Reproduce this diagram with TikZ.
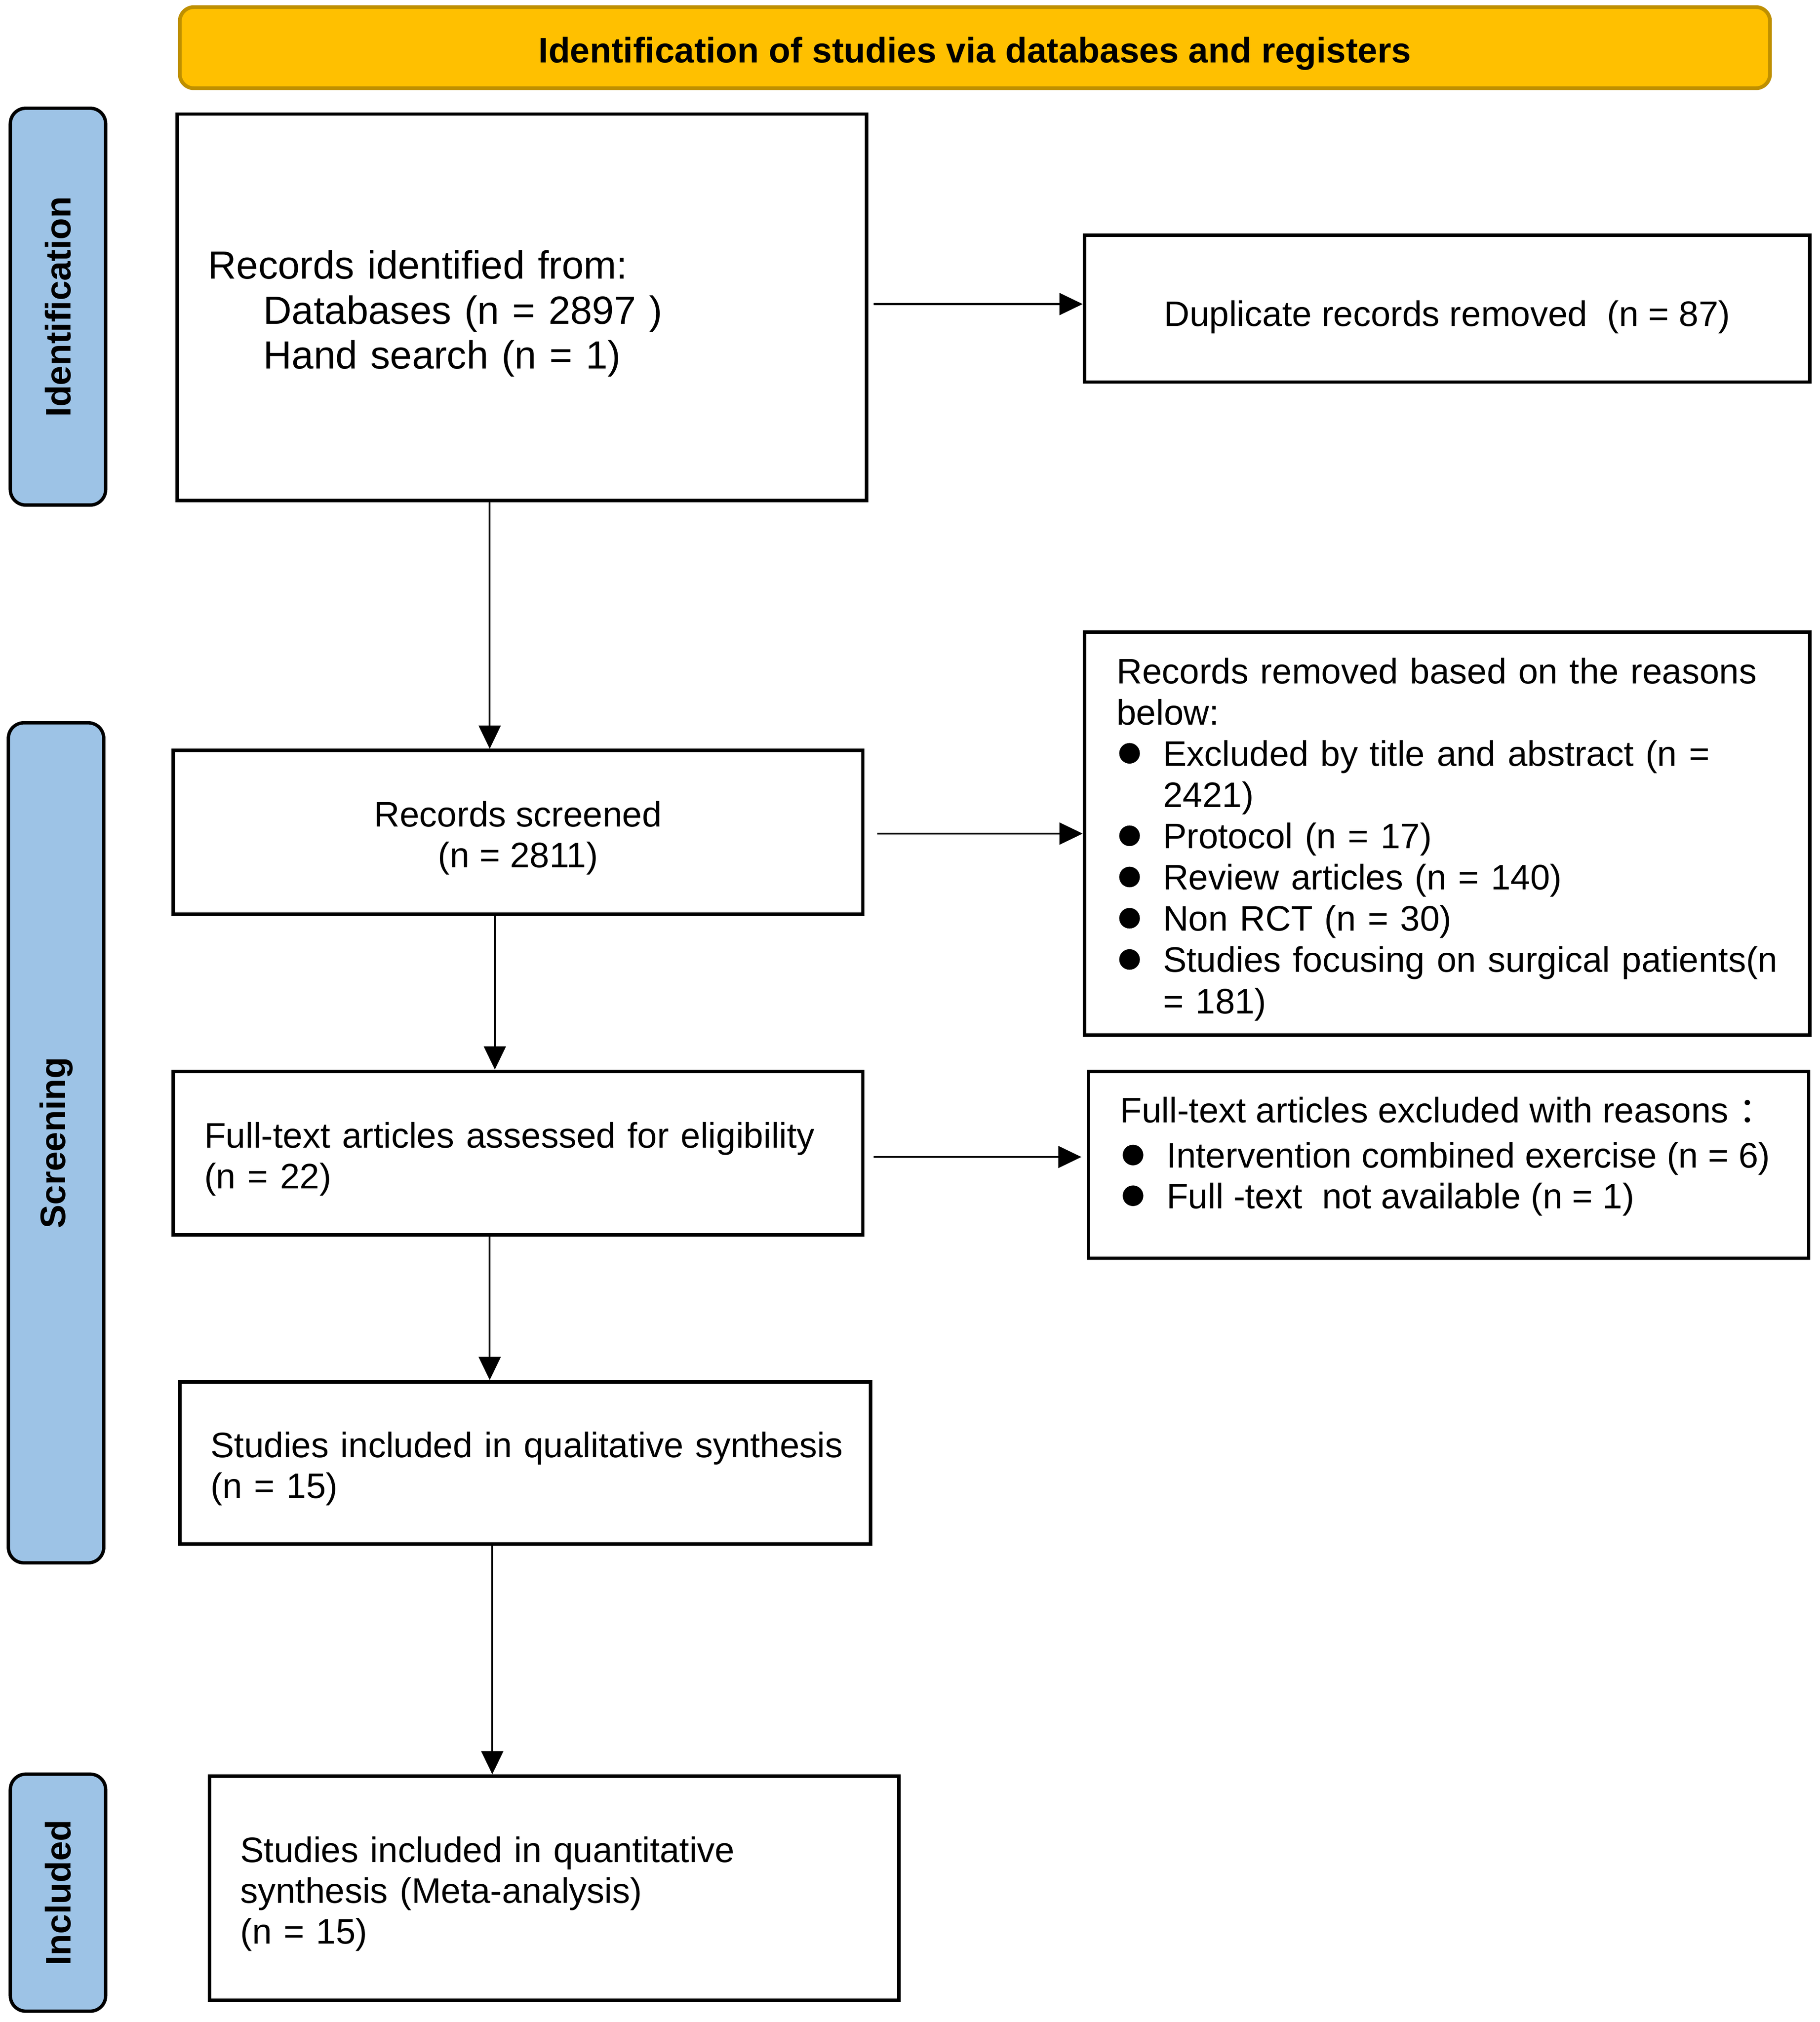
\documentclass[tikz,border=0pt]{standalone}
\usepackage{fontspec}
\setmainfont{Liberation Sans}
\newfontfamily\cjk{Noto Sans CJK SC}
\usetikzlibrary{arrows.meta}
\definecolor{banfill}{HTML}{FFC000}
\definecolor{banline}{HTML}{BF9000}
\definecolor{sidefill}{HTML}{9DC3E6}
\newcommand\bul{\makebox[36pt][l]{\hspace{2pt}\tikz[baseline=0pt]\fill[black] (8pt,9.9pt) circle[radius=8pt];}}
\newcommand\ind{\hspace*{36pt}}
\newcommand\dn{\rule{0pt}{1.05em}}
\begin{document}
\begin{tikzpicture}[x=1pt,y=-1pt,
  txt/.style={font=\fontsize{27.5}{31.6}\selectfont},
  box/.style={draw=black, line width=2.7pt, fill=white, inner ysep=0pt, txt},
  lbox/.style={box, align=left, inner xsep=24pt},
  cbox/.style={box, align=center},
  side/.style={draw=black, line width=2.6pt, fill=sidefill, rounded corners=12pt, rotate=90, minimum height=74pt, font=\fontsize{27.5}{31.6}\selectfont\bfseries, inner sep=0pt},
  arr/.style={line width=1.4pt, -{Triangle[length=18pt,width=17pt]}}
]
\useasboundingbox (0,0) rectangle (1412,1569.4);

\node[draw=banline, fill=banfill, line width=2.9pt, rounded corners=11pt, minimum width=1234pt, minimum height=63pt, inner sep=0pt, font=\fontsize{27.5}{31.6}\selectfont\bfseries] (banner) at (756.5,37) {\dn Identification of studies via databases and registers};

\node[side, minimum width=308pt] (sid) at (45,238) {Identification};
\node[side, minimum width=652pt] (sscr) at (43.5,887) {Screening};
\node[side, minimum width=184pt] (sinc) at (45,1469) {Included};

\node[lbox, text width=487pt, minimum height=300pt, font=\fontsize{30.5}{35}\selectfont] (ident) at (405,238.5) {\dn Records identified from:\\\hspace*{43pt}Databases (n = 2897 )\\\hspace*{43pt}Hand search (n = 1)};

\node[cbox, minimum width=563pt, minimum height=114pt] (dup) at (1123,239.5) {\rule{0pt}{1.2em}Duplicate records removed\ \ (n = 87)};

\node[cbox, minimum width=535pt, minimum height=127pt] (scr) at (402,646) {\dn Records screened\\(n = 2811)};

\node[lbox, inner xsep=25pt, text width=513pt, minimum height=313pt, font=\fontsize{27.5}{32}\selectfont] (rem) at (1123,647) {\dn Records removed based on the reasons\\below:\\\bul Excluded by title and abstract (n =\\\ind 2421)\\\bul Protocol (n = 17)\\\bul Review articles (n = 140)\\\bul Non RCT (n = 30)\\\bul \mbox{Studies focusing on surgical patients(n}\\\ind = 181)};

\node[lbox, text width=487pt, minimum height=127pt] (full) at (402,895) {\dn Full-text articles assessed for eligibility\\(n = 22)};

\node[box, minimum width=559pt, minimum height=145pt] (excl) at (1124,904) {};
\node[txt, align=left, anchor=base west, inner sep=0pt] (excltext) at (869,938) {Full-text articles excluded with reasons {\cjk ：}\\[3.4pt]\bul Intervention combined exercise (n = 6)\\\bul Full -text\ \ not available (n = 1)};

\node[lbox, text width=488pt, minimum height=126pt] (qual) at (407.5,1135.5) {\dn\mbox{Studies included in qualitative synthesis}\\(n = 15)};

\node[lbox, text width=487pt, minimum height=174pt] (quant) at (430,1465.5) {\dn Studies included in quantitative\\synthesis (Meta-analysis)\\(n = 15)};

\draw[arr] ([xshift=4pt,yshift=2.5pt]ident.east) -- ([yshift=3.5pt]dup.west);
\draw[arr] ([xshift=-25pt]ident.south) -- ([xshift=-22pt]scr.north);
\draw[arr] ([xshift=10pt,yshift=-1pt]scr.east) -- (rem.west);
\draw[arr] ([xshift=-18pt]scr.south) -- ([xshift=-18pt]full.north);
\draw[arr] ([xshift=7pt,yshift=-3pt]full.east) -- ([xshift=-4pt,yshift=6pt]excl.west);
\draw[arr] ([xshift=-22pt]full.south) -- ([xshift=-27.5pt]qual.north);
\draw[arr] ([xshift=-25.5pt]qual.south) -- ([xshift=-48pt]quant.north);
\end{tikzpicture}
\end{document}
